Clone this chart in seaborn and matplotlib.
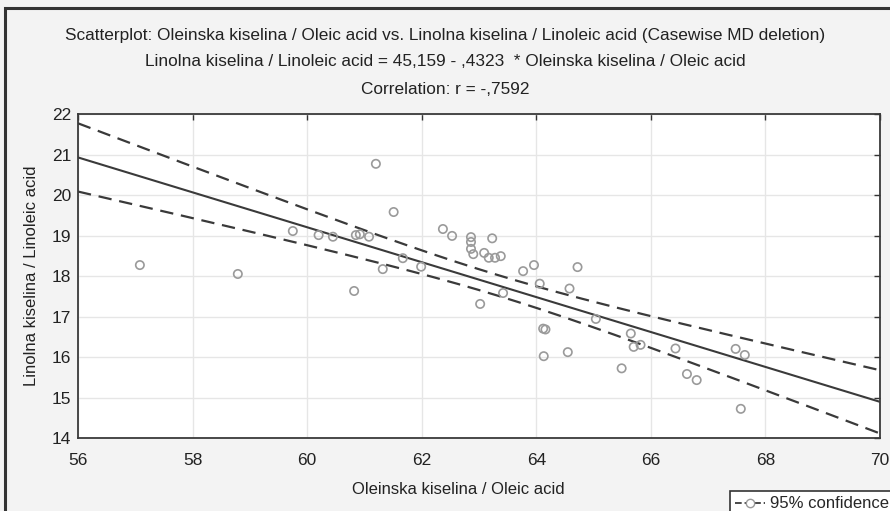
import numpy as np
import pandas as pd
import seaborn as sns
import matplotlib.pyplot as plt
from matplotlib.lines import Line2D
from matplotlib.patches import Rectangle

oleic = [57.08, 58.79, 59.75, 60.20, 60.45, 60.82, 60.85, 60.92, 61.08, 61.20,
         61.32, 61.51, 61.67, 61.99, 62.37, 62.53, 62.86, 62.86, 62.86, 62.90,
         63.02, 63.09, 63.17, 63.23, 63.28, 63.38, 63.42, 63.77, 63.96, 64.06,
         64.12, 64.13, 64.16, 64.55, 64.58, 64.72, 65.04, 65.49, 65.65, 65.70,
         65.82, 66.43, 66.63, 66.80, 67.48, 67.57, 67.64]
linoleic = [18.27, 18.05, 19.11, 19.01, 18.97, 17.63, 19.01, 19.03, 18.97, 20.77,
            18.17, 19.58, 18.44, 18.23, 19.16, 18.99, 18.96, 18.84, 18.67, 18.54,
            17.31, 18.57, 18.45, 18.93, 18.45, 18.49, 17.58, 18.12, 18.27, 17.81,
            16.70, 16.02, 16.68, 16.12, 17.69, 18.22, 16.94, 15.72, 16.58, 16.25,
            16.30, 16.21, 15.58, 15.43, 16.20, 14.72, 16.05]
x_ticks = [56, 58, 60, 62, 64, 66, 68, 70]
y_ticks = [14, 15, 16, 17, 18, 19, 20, 21, 22]

title_lines = [
    'Scatterplot: Oleinska kiselina / Oleic acid vs. Linolna kiselina / Linoleic acid (Casewise MD deletion)',
    'Linolna kiselina / Linoleic acid = 45,159 - ,4323  * Oleinska kiselina / Oleic acid',
    'Correlation: r = -,7592',
]

df = pd.DataFrame({'oleic': oleic, 'linoleic': linoleic})

sns.set_style('white')
plt.rcParams['font.family'] = ['Liberation Sans', 'DejaVu Sans']

fig = plt.figure(figsize=(8.9, 5.11), dpi=100, facecolor='#f3f3f3')
ax = fig.add_axes([78/890, 1-438/511, 802/890, 324/511])
ax.set_facecolor('white')
ax.set_xlim(56, 70)
ax.set_ylim(14, 22)

# fit line over the full axis range
sns.regplot(x='oleic', y='linoleic', data=df, scatter=False, ci=None,
            truncate=False, ax=ax, line_kws={'color': '#3a3a3a', 'lw': 1.5})

# 95% confidence band of the mean (analytic)
x = df['oleic'].values
y = df['linoleic'].values
n = len(x)
b, a = np.polyfit(x, y, 1)
resid = y - (a + b*x)
s = np.sqrt((resid**2).sum() / (n - 2))
sxx = ((x - x.mean())**2).sum()
t_val = 2.013
xs = np.linspace(56, 70, 200)
hw = t_val * s * np.sqrt(1/n + (xs - x.mean())**2 / sxx)
band = pd.DataFrame({'x': xs, 'lo': a + b*xs - hw, 'hi': a + b*xs + hw})
for col in ['lo', 'hi']:
    sns.lineplot(x='x', y=col, data=band, ax=ax, color='#3a3a3a', lw=1.6,
                 dashes=False, linestyle=(0, (6, 3.5)))

sns.scatterplot(x='oleic', y='linoleic', data=df, ax=ax, s=36, marker='o',
                facecolor='none', edgecolor='#9a9a9a', linewidth=1.2, zorder=5)

ax.set_xticks(x_ticks)
ax.set_yticks(y_ticks)
ax.grid(True, color='#e6e6e6', lw=1)
ax.set_axisbelow(True)
ax.tick_params(direction='in', top=True, right=True, length=4, width=1,
               color='#333333', labelsize=12.5, labelcolor='#222222')
ax.tick_params(axis='x', pad=11)
ax.tick_params(axis='y', pad=5)
for sp in ax.spines.values():
    sp.set_color('#3a3a3a')
    sp.set_linewidth(1.3)
ax.set_xlabel('')
ax.set_ylabel('Linolna kiselina / Linoleic acid', fontsize=12, color='#222222', labelpad=9)

fig.text(458/890, 1-489/511, 'Oleinska kiselina / Oleic acid', ha='center', va='center',
         fontsize=12, color='#222222')
for yy, txt in zip([35, 62, 90], title_lines):
    fig.text(0.5, 1-yy/511, txt, ha='center', va='center', fontsize=12.4, color='#222222')

# outer frame of the scanned figure
fig.add_artist(Rectangle((5/890, -0.1), 1.0, 1-8/511+0.1, transform=fig.transFigure,
                         fill=False, edgecolor='#333333', lw=2.2))

handle = Line2D([], [], color='#3a3a3a', ls='--', marker='o', mfc='white',
                mec='#9a9a9a', lw=1.3)
leg = fig.legend([handle], ['95% confidence'], loc='upper left',
                 bbox_to_anchor=(722/890, 1-483/511), fontsize=12, fancybox=False,
                 framealpha=1, edgecolor='#333333', handlelength=1.8,
                 borderpad=0.3, handletextpad=0.3)
leg.get_frame().set_linewidth(1.2)

plt.savefig('out.png', dpi=100, facecolor=fig.get_facecolor())
